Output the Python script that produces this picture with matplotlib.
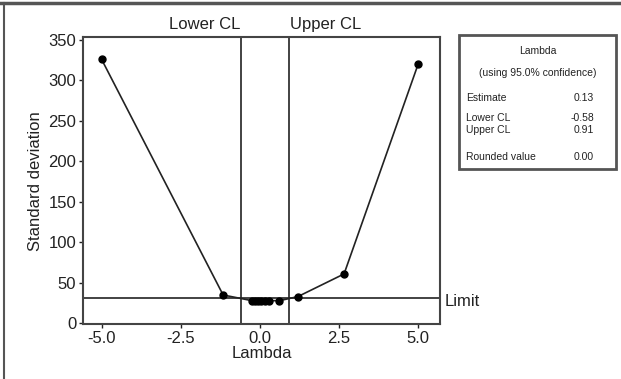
import matplotlib
matplotlib.use("Agg")
import matplotlib.pyplot as plt
from matplotlib.lines import Line2D
from matplotlib.patches import Rectangle

plt.rcParams['font.family'] = ['Liberation Sans', 'DejaVu Sans']

# Box-Cox profile: standard deviation of transformed data vs lambda
lambdas = [-5.0, -1.16, -0.25, -0.15, -0.05, 0.05, 0.15, 0.3, 0.62, 1.2, 2.66, 5.0]
std_dev = [326, 35, 28, 28, 28, 28, 28, 28, 28, 33, 61, 320]

lower_cl = -0.58
upper_cl = 0.91
estimate = 0.13
rounded_value = 0.00
limit = 31

x_ticks = [-5.0, -2.5, 0.0, 2.5, 5.0]
y_ticks = [0, 50, 100, 150, 200, 250, 300, 350]

ink = '#222222'

fig = plt.figure(figsize=(6.21, 3.79), dpi=100)
ax = fig.add_axes([0.134, 0.1443, 0.574, 0.758])

ax.plot(lambdas, std_dev, color=ink, lw=1.2, marker='o', ms=5,
        markerfacecolor='black', markeredgecolor='black', zorder=3)
ax.axvline(lower_cl, color=ink, lw=1.2)
ax.axvline(upper_cl, color=ink, lw=1.2)
ax.axhline(limit, color=ink, lw=1.2)

ax.set_xlim(-5.58, 5.68)
ax.set_ylim(-1.2, 353.5)
ax.set_xticks(x_ticks)
ax.set_xticklabels([f'{v:.1f}' for v in x_ticks])
ax.set_yticks(y_ticks)
ax.tick_params(direction='out', length=3, width=1, color=ink,
               labelsize=12, labelcolor=ink, pad=2)
for s in ax.spines.values():
    s.set_color('#444444')
    s.set_linewidth(1.5)

ax.set_xlabel('Lambda', fontsize=12, color=ink, labelpad=0)
ax.set_ylabel('Standard deviation', fontsize=12, color=ink, labelpad=4)

# Confidence-limit and limit labels
ax.text(lower_cl - 0.05, 1.018, 'Lower CL', transform=ax.get_xaxis_transform(),
        ha='right', va='bottom', fontsize=12, color=ink)
ax.text(upper_cl + 0.05, 1.018, 'Upper CL', transform=ax.get_xaxis_transform(),
        ha='left', va='bottom', fontsize=12, color=ink)
ax.text(1.015, limit - 4, 'Limit', transform=ax.get_yaxis_transform(),
        ha='left', va='center', fontsize=12, color=ink)

# Summary box
bx0, by0, bx1, by1 = 459 / 621, 1 - 169 / 379, 616 / 621, 1 - 35 / 379
fig.add_artist(Rectangle((bx0, by0), bx1 - bx0, by1 - by0, transform=fig.transFigure,
                         fill=False, edgecolor='#555555', lw=2))
fs = 7.5
cx = (bx0 + bx1) / 2
lx = 466 / 621
rx = 594 / 621
fig.text(cx, 1 - 51 / 379, 'Lambda', ha='center', va='center', fontsize=fs, color=ink)
fig.text(cx, 1 - 73 / 379, '(using 95.0% confidence)', ha='center', va='center',
         fontsize=fs, color=ink)
rows = [('Estimate', f'{estimate:.2f}', 98),
        ('Lower CL', f'{lower_cl:.2f}', 118),
        ('Upper CL', f'{upper_cl:.2f}', 130),
        ('Rounded value', f'{rounded_value:.2f}', 157)]
for name, val, ypx in rows:
    fig.text(lx, 1 - ypx / 379, name, ha='left', va='center', fontsize=fs, color=ink)
    fig.text(rx, 1 - ypx / 379, val, ha='right', va='center', fontsize=fs, color=ink)

# Frame edges along the top and left of the figure
fig.add_artist(Line2D([0, 1], [1 - 3 / 379] * 2, transform=fig.transFigure,
                      color='#555555', lw=2.5))
fig.add_artist(Line2D([4 / 621] * 2, [0, 1 - 3 / 379], transform=fig.transFigure,
                      color='#555555', lw=1.5))

fig.savefig('out.png', dpi=100)
